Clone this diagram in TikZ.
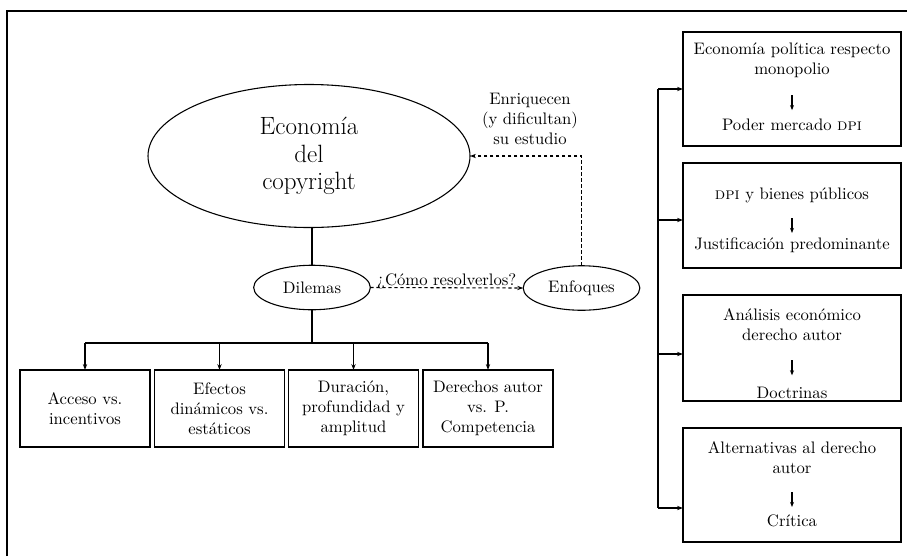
\documentclass[tikz,border=0pt]{standalone}
\usetikzlibrary{shapes.geometric,arrows.meta}
\begin{document}
\begin{tikzpicture}[x=0.6pt,y=-0.6pt,
  every node/.style={inner sep=0pt, outer sep=0pt},
  thinline/.style={line width=0.65pt},
  arr/.style={thinline,-{Stealth[length=3.6pt,width=2.6pt]}},
  dasharr/.style={arr, dash pattern=on 2pt off 1.6pt},
  bigell/.style={ellipse, draw, thinline, minimum width=193.2pt, minimum height=85.8pt, align=center, font=\fontsize{15}{16.5}\selectfont},
  smallell/.style={ellipse, draw, thinline, minimum width=70pt, minimum height=26.7pt},
  lowbox/.style={rectangle, draw, thinline, minimum width=78pt, minimum height=46.2pt, align=center},
  sidebox/.style={rectangle, draw, thinline, minimum width=130.8pt},
  txt/.style={align=center, anchor=base},
  innerarr/.style={thinline,-{Stealth[length=3pt,width=2.4pt]}},
]
\useasboundingbox (0,0) rectangle (907,556);
% frame
\coordinate (fa) at (7,556);
\coordinate (fb) at (7,11);
\coordinate (fc) at (907,11);
\draw[line width=0.9pt] (fa) -- (fb) -- (fc);

% central part
\node[bigell] (eco) at (309,156) {Economía\\del\\copyright};
\node[smallell] (dil) at (312,287.5) {Dilemas};
\node[smallell] (enf) at (581.5,288) {Enfoques};

\draw[thinline] (dil.north) -- (dil.north |- eco.south);
\draw[dasharr] (dil.east) -- node[anchor=base, yshift=1.5pt] (q) {¿Cómo resolverlos?} (enf.west);
\draw[dasharr] (enf.north) |- (eco.east);
\node[txt] (lab) at (530,144) {Enriquecen\\(y dificultan)\\su estudio};

% tree of dilemmas
\coordinate (tj) at (312,343);
\node[lowbox] (b1) at (85,408.5) {Acceso vs.\\incentivos};
\node[lowbox] (b2) at (219.5,408.5) {Efectos\\dinámicos vs.\\estáticos};
\node[lowbox] (b3) at (353.5,408.5) {Duración,\\profundidad y\\amplitud};
\node[lowbox] (b4) at (488,408.5) {Derechos autor\\vs. P.\\Competencia};
\draw[thinline] (dil.south) -- (tj);
\draw[thinline] (b1.north |- tj) -- (b4.north |- tj);
\foreach \b in {b1,b2,b3,b4} \draw[arr] (\b.north |- tj) -- (\b.north);

% right column
\node[sidebox, minimum height=68.4pt] (r1) at (792,89) {};
\node[sidebox, minimum height=63pt] (r2) at (792,215.5) {};
\node[sidebox, minimum height=63.6pt] (r3) at (792,348) {};
\node[sidebox, minimum height=68.4pt] (r4) at (792,485) {};

\node[txt] (r1a) at (792,74) {Economía política respecto\\monopolio};
\node[txt] (r1b) at (792,130) {Poder mercado \textsc{dpi}};
\draw[innerarr, shorten <=10.7pt, shorten >=5pt] (r1a.south) -- (r1b.north);

\node[txt] (r2a) at (792,199) {\textsc{dpi} y bienes públicos};
\node[txt] (r2b) at (792,249) {Justificación predominante};
\draw[innerarr, shorten <=9.5pt, shorten >=2.6pt] (r2a.south) -- (r2b.north);

\node[txt] (r3a) at (792,340) {Análisis económico\\derecho autor};
\node[txt] (r3b) at (792,398) {Doctrinas};
\draw[innerarr, shorten <=12pt, shorten >=6.8pt] (r3a.south) -- (r3b.north);

\node[txt] (r4a) at (792,473) {Alternativas al derecho\\autor};
\node[txt] (r4b) at (792,526) {Crítica};
\draw[innerarr, shorten <=11.4pt, shorten >=4.4pt] (r4a.south) -- (r4b.north);

% bus
\coordinate (s1) at (658,89);
\coordinate (s2) at (658,220);
\coordinate (s3) at (658,354);
\coordinate (s4) at (658,508);
\draw[thinline] (s1) -- (s4);
\draw[arr] (s1) -- (s1 -| r1.west);
\draw[arr] (s2) -- (s2 -| r2.west);
\draw[arr] (s3) -- (s3 -| r3.west);
\draw[arr] (s4) -- (s4 -| r4.west);
\end{tikzpicture}
\end{document}
